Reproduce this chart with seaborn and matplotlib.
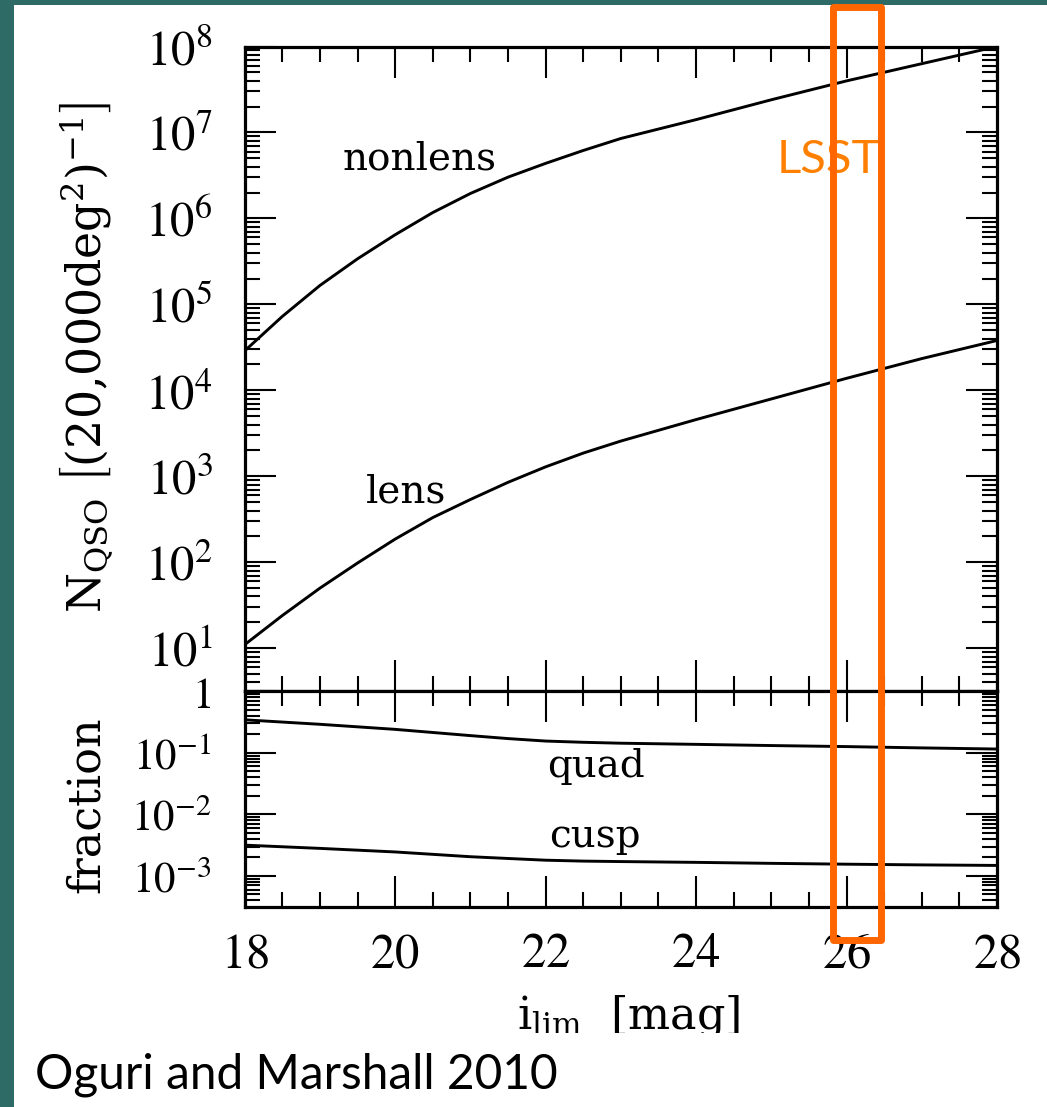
import numpy as np
import pandas as pd
import matplotlib
matplotlib.use("Agg")
import matplotlib.pyplot as plt
import matplotlib.ticker as mticker
import matplotlib.transforms as mtrans
from matplotlib.patches import Rectangle
import seaborn as sns

# limiting magnitude grid and number counts
mag_top = [18, 18.5, 19, 19.5, 20, 20.5, 21, 21.5, 22, 22.5, 23, 24, 25, 26, 27, 28]
nonlens = [2.88e4, 7.24e4, 1.66e5, 3.39e5, 6.46e5, 1.17e6, 1.95e6, 3.02e6,
           4.37e6, 6.17e6, 8.51e6, 1.41e7, 2.40e7, 3.98e7, 6.31e7, 1.0e8]
lens = [11.0, 24.0, 50.0, 98.0, 186.0, 331.0, 537.0, 851.0,
        1288.0, 1862.0, 2570.0, 4570.0, 7940.0, 13800.0, 23400.0, 38000.0]

# image-configuration fractions
mag_bot = [18, 19, 20, 21, 21.5, 22, 22.5, 23, 24, 25, 26, 27, 28]
quad = [0.343, 0.29, 0.24, 0.19, 0.17, 0.155, 0.148, 0.143, 0.137, 0.131,
        0.126, 0.12, 0.115]
cusp = [3.16e-3, 2.8e-3, 2.45e-3, 2.05e-3, 1.92e-3, 1.8e-3, 1.74e-3, 1.71e-3,
        1.66e-3, 1.6e-3, 1.55e-3, 1.51e-3, 1.48e-3]

lsst_mag = [25.82, 26.46]

W, H = 1047, 1107

sns.set_style("ticks")
plt.rcParams["font.family"] = ["DejaVu Serif"]
plt.rcParams["mathtext.fontset"] = "stix"
for k in ("axes.edgecolor", "xtick.color", "ytick.color", "text.color", "axes.labelcolor"):
    plt.rcParams[k] = "black"

fig = plt.figure(figsize=(W / 100, H / 100), dpi=100, facecolor="#2f6b66")
# white slide area
fig.add_artist(Rectangle((14 / W, 0), 1, 1 - 5 / H, transform=fig.transFigure,
                         facecolor="white", edgecolor="none", zorder=-5))

left, right = 244.7 / W, 997 / W
ax_top = fig.add_axes([left, 1 - 691.2 / H, right - left, (691.2 - 46.5) / H])
ax_bot = fig.add_axes([left, 1 - 906.7 / H, right - left, (906.7 - 691.2) / H],
                      sharex=ax_top)

df_top = pd.DataFrame({
    "mag": mag_top * 2,
    "N": nonlens + lens,
    "kind": ["nonlens"] * len(mag_top) + ["lens"] * len(mag_top),
})
df_bot = pd.DataFrame({
    "mag": mag_bot * 2,
    "f": quad + cusp,
    "kind": ["quad"] * len(mag_bot) + ["cusp"] * len(mag_bot),
})

sns.lineplot(data=df_top, x="mag", y="N", hue="kind",
             palette={"nonlens": "black", "lens": "black"},
             lw=2.1, legend=False, ax=ax_top)
sns.lineplot(data=df_bot, x="mag", y="f", hue="kind",
             palette={"quad": "black", "cusp": "black"},
             lw=2.1, legend=False, ax=ax_bot)


def log_label(v, pos):
    e = int(round(np.log10(v)))
    if e == 0:
        return r"$1$"
    return r"$10^{%d}$" % e


for ax in (ax_top, ax_bot):
    ax.set_yscale("log")
    ax.yaxis.set_major_locator(mticker.LogLocator(base=10, numticks=20))
    ax.yaxis.set_minor_locator(mticker.LogLocator(base=10, subs=np.arange(2, 10), numticks=200))
    ax.yaxis.set_major_formatter(mticker.FuncFormatter(log_label))
    ax.yaxis.set_minor_formatter(mticker.NullFormatter())
    ax.tick_params(which="both", direction="in", top=True, right=True,
                   width=1.5, labelsize=35, colors="black")
    ax.tick_params(axis="y", pad=23)
    ax.tick_params(axis="x", pad=17)
    ax.tick_params(which="major", length=22)
    ax.tick_params(which="minor", length=11)
    for s in ax.spines.values():
        s.set_linewidth(2.3)
        s.set_color("black")
    ax.set_facecolor("white")

ax_bot.tick_params(axis="y", labelsize=31, pad=24)

ax_top.set_ylim(10 ** 0.5, 1e8)
ax_bot.set_ylim(10 ** -3.5, 1)
ax_bot.set_xlim(18, 28)
ax_bot.xaxis.set_major_locator(mticker.MultipleLocator(2))
ax_bot.xaxis.set_minor_locator(mticker.MultipleLocator(0.5))
ax_bot.xaxis.set_major_formatter(mticker.FuncFormatter(lambda v, p: r"$%d$" % v))
ax_top.tick_params(labelbottom=False)
ax_top.set_xlabel("")

ax_top.set_ylabel(r"$\mathrm{N_{QSO}}\ \left[(20{,}000\mathrm{deg}^2)^{-1}\right]$",
                  fontsize=33, math_fontfamily="dejavuserif")
ax_top.yaxis.set_label_coords(-0.172, 0.518)
ax_bot.set_ylabel("fraction", fontsize=32)
ax_bot.yaxis.set_label_coords(-0.182, 0.472)
ax_bot.set_xlabel(r"$\mathrm{i_{lim}}\ \ [\mathrm{mag}]$", fontsize=32,
                  math_fontfamily="dejavuserif")
ax_bot.xaxis.set_label_coords(0.51, -0.40)

ax_top.text(20.33, 10 ** 6.57, "nonlens", fontsize=28, ha="center", va="baseline")
ax_top.text(20.15, 10 ** 2.695, "lens", fontsize=28, ha="center", va="baseline")
ax_bot.text(22.67, 10 ** -1.39, "quad", fontsize=28, ha="center", va="baseline")
ax_bot.text(22.65, 10 ** -2.53, "cusp", fontsize=28, ha="center", va="baseline")

# slide crop below the axis label
fig.add_artist(Rectangle((0.15, 1 - 1052 / H), 0.8, 19 / H, transform=fig.transFigure,
                         facecolor="white", edgecolor="none", zorder=5))

fig.text(35 / W, 1 - 1075 / H, "Oguri and Marshall 2010", fontsize=34.5,
         family="Lato", va="center", ha="left", zorder=6)

# LSST depth box
fig.text(828 / W, 1 - 160 / H, "LSST", color="#ff8000", fontsize=34,
         family="Lato", ha="center", va="center", zorder=8)
trans = mtrans.blended_transform_factory(ax_top.transData, fig.transFigure)
fig.add_artist(Rectangle((lsst_mag[0], 1 - 940 / H), lsst_mag[1] - lsst_mag[0],
                         (940 - 7) / H, transform=trans, fill=False,
                         edgecolor="#ff6600", lw=5, joinstyle="round", zorder=10))

fig.savefig("out.png", dpi=100, facecolor=fig.get_facecolor())
